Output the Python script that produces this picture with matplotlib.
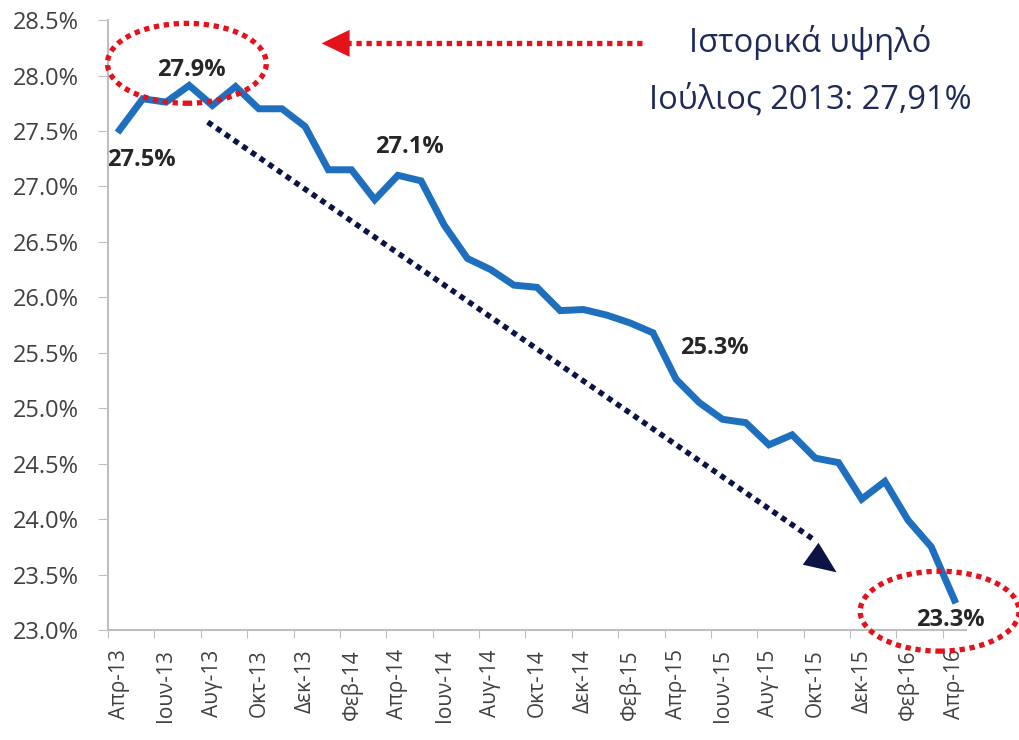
import numpy as np
import matplotlib
matplotlib.use('Agg')
import matplotlib.pyplot as plt
from matplotlib.patches import Ellipse, Polygon

plt.rcParams['font.family'] = ['Open Sans', 'DejaVu Sans']

# monthly unemployment rate, Apr-13 .. Apr-16
months = ['Απρ-13', 'Μαϊ-13', 'Ιουν-13', 'Ιουλ-13', 'Αυγ-13', 'Σεπ-13', 'Οκτ-13', 'Νοε-13',
          'Δεκ-13', 'Ιαν-14', 'Φεβ-14', 'Μαρ-14', 'Απρ-14', 'Μαϊ-14', 'Ιουν-14', 'Ιουλ-14',
          'Αυγ-14', 'Σεπ-14', 'Οκτ-14', 'Νοε-14', 'Δεκ-14', 'Ιαν-15', 'Φεβ-15', 'Μαρ-15',
          'Απρ-15', 'Μαϊ-15', 'Ιουν-15', 'Ιουλ-15', 'Αυγ-15', 'Σεπ-15', 'Οκτ-15', 'Νοε-15',
          'Δεκ-15', 'Ιαν-16', 'Φεβ-16', 'Μαρ-16', 'Απρ-16']
rate = [27.51, 27.79, 27.76, 27.91, 27.73, 27.90, 27.70, 27.70, 27.54, 27.15,
        27.15, 26.88, 27.10, 27.05, 26.65, 26.35, 26.25, 26.11, 26.09, 25.88,
        25.89, 25.84, 25.77, 25.68, 25.26, 25.05, 24.90, 24.87, 24.67, 24.76,
        24.55, 24.51, 24.18, 24.34, 23.99, 23.75, 23.27]

# labelled points and where their labels sit
point_labels = ['27.5%', '27.9%', '27.1%', '25.3%', '23.3%']
label_pos = [(0.95, 27.24), (3.1, 28.05), (12.5, 27.355), (25.63, 25.54), (35.82, 23.09)]

note_lines = ['Ιστορικά υψηλό', 'Ιούλιος 2013: 27,91%']

RED = '#E3121B'
NAVY = '#0C1445'

x = np.arange(len(months))

fig = plt.figure(figsize=(10.2, 7.4), dpi=100)
ax = fig.add_axes([0.1059, 0.1486, 0.8412, 0.8243])

ax.plot(x, rate, color='#1F6FBF', lw=5, solid_joinstyle='miter', zorder=3)

ax.set_xlim(-0.5, len(months) - 0.5)
ax.set_ylim(23.0, 28.5)
yt = np.arange(23.0, 28.51, 0.5)
ax.set_yticks(yt)
ax.set_yticklabels([f'{v:.1f}%' for v in yt], fontsize=17, color='#404040')

# tick marks between categories, labels every second month
ax.set_xticks(np.arange(-0.5, len(months) - 0.5, 2))
ax.set_xticklabels([])
ax.set_xticks(x[::2], minor=True)
ax.set_xticklabels(months[::2], minor=True, rotation=90, fontsize=15, color='#404040')
ax.tick_params(axis='x', which='minor', length=0, pad=14)
ax.tick_params(axis='x', which='major', length=6, color='#BFBFBF')
ax.tick_params(axis='y', length=7, color='#BFBFBF', pad=14)

for s in ['top', 'right']:
    ax.spines[s].set_visible(False)
for s in ['left', 'bottom']:
    ax.spines[s].set_color('#BFBFBF')
    ax.spines[s].set_linewidth(1.5)

for txt, (lx, ly) in zip(point_labels, label_pos):
    ax.text(lx, ly, txt, fontsize=17, fontweight='bold', color='#262626',
            ha='center', va='center', zorder=5)

dots = (0, (1, 0.9))

# red dotted circles
for cx, cy in [(2.9, 28.11), (35.36, 23.17)]:
    ax.add_patch(Ellipse((cx, cy), 6.85, 0.72, fill=False, ec=RED, lw=3.8,
                         ls=dots, clip_on=False, zorder=4))


def head(tail, tip, length, width, color):
    # filled triangle at tip, sized in pixels
    t = ax.transData
    p0 = t.transform(tail)
    p1 = t.transform(tip)
    d = (p1 - p0) / np.hypot(*(p1 - p0))
    n = np.array([-d[1], d[0]])
    base = p1 - d * length
    pts = np.array([p1, base + n * width / 2, base - n * width / 2])
    ax.add_patch(Polygon(t.inverted().transform(pts), closed=True, fc=color, ec=color,
                         lw=0, clip_on=False, zorder=4))


fig.canvas.draw()

# red dotted arrow to the historic high
ax.plot([22.53, 9.8], [28.29, 28.29], color=RED, lw=3.8, ls=dots, clip_on=False, zorder=4)
head((22.53, 28.29), (8.71, 28.29), 28, 27, RED)

# navy dotted trend arrow
ax.plot([3.80, 29.9], [27.58, 23.82], color=NAVY, lw=4, ls=dots, zorder=4)
head((3.80, 27.58), (30.92, 23.52), 32, 27, NAVY)

fig.text(0.794, 0.942, note_lines[0], fontsize=23.5, color='#1F2A5A', ha='center', va='center')
fig.text(0.794, 0.865, note_lines[1], fontsize=23.5, color='#1F2A5A', ha='center', va='center')

fig.savefig('out.png', dpi=100)
